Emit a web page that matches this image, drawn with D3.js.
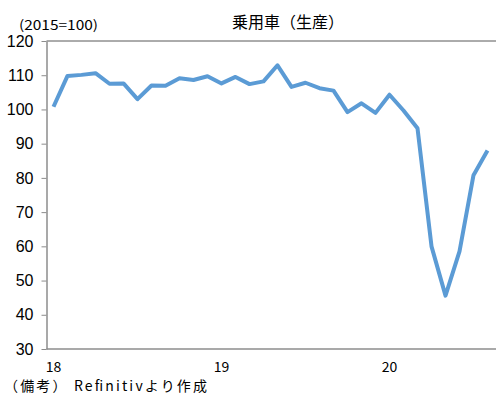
<!DOCTYPE html>
<html>
<head>
<meta charset="utf-8">
<script src="https://cdn.jsdelivr.net/npm/d3@7"></script>
<style>
  body { margin: 0; background: #fff; }
  svg { display: block; }
</style>
</head>
<body>
<div id="chart"></div>
<script>
// data: monthly index, Jan 2018 - Aug 2020
var months = [];
for (var yr = 2018; yr <= 2020; yr++) {
  for (var m = 1; m <= 12; m++) {
    if (yr === 2020 && m > 8) break;
    months.push(yr + "-" + m);
  }
}
var values = [100.8, 109.8, 110.1, 110.6, 107.5, 107.6, 103.0, 107.0, 106.9, 109.1, 108.6, 109.7,
              107.6, 109.5, 107.4, 108.2, 112.9, 106.6, 107.8, 106.2, 105.5, 99.2, 101.8, 99.0,
              104.3, 99.7, 94.5, 60.0, 45.6, 58.5, 80.8, 88.0];
var yTicks = [30, 40, 50, 60, 70, 80, 90, 100, 110, 120];
var xLabels = {"2018-1": "18", "2019-1": "19", "2020-1": "20"};

var W = 496, H = 394;
var plotLeft = 46.5, plotTop = 41, plotBottom = 349;

var svg = d3.select("#chart").append("svg")
    .attr("width", W)
    .attr("height", H);

var x = d3.scaleBand()
    .domain(months)
    .range([plotLeft, plotLeft + months.length * 14]);

var yScale = d3.scaleLinear()
    .domain([30, 120])
    .range([plotBottom, plotTop]);

// top border
svg.append("line")
  .attr("x1", plotLeft).attr("x2", W)
  .attr("y1", plotTop).attr("y2", plotTop)
  .style("stroke", "#595959").style("stroke-width", 1);

// y axis
var yAxis = svg.append("g")
  .attr("transform", "translate(" + plotLeft + ",0)")
  .call(d3.axisLeft(yScale).tickValues(yTicks).tickSize(5).tickPadding(8).tickSizeOuter(0));
yAxis.select(".domain").style("stroke", "#8c8c8c").style("stroke-width", 1.5);
yAxis.selectAll(".tick line").style("stroke", "#8c8c8c");
yAxis.selectAll("text")
  .style("font-family", "'Liberation Sans', Arial, sans-serif")
  .style("font-size", "16px")
  .style("fill", "#000");

// x axis line
svg.append("line")
  .attr("x1", plotLeft).attr("x2", W)
  .attr("y1", plotBottom).attr("y2", plotBottom)
  .style("stroke", "#8c8c8c").style("stroke-width", 1.5);

// x labels
svg.append("g")
  .selectAll("text")
  .data(months.filter(function(d) { return xLabels[d]; }))
  .enter().append("text")
    .attr("x", function(d) { return x(d) + x.bandwidth() / 2; })
    .attr("y", 367)
    .attr("dy", "0.35em")
    .attr("text-anchor", "middle")
    .style("font-family", "'Noto Sans CJK JP', sans-serif")
    .style("font-size", "14px")
    .text(function(d) { return xLabels[d]; });

// the line
var line = d3.line()
  .x(function(d, i) { return x(months[i]) + x.bandwidth() / 2; })
  .y(function(d) { return yScale(d); });

svg.append("path")
  .datum(values)
  .attr("d", line)
  .style("fill", "none")
  .style("stroke", "#5b9bd5")
  .style("stroke-width", 4)
  .style("stroke-linejoin", "round");

// titles
svg.append("text")
  .attr("x", 232).attr("y", 22)
  .attr("dy", "0.35em")
  .style("font-family", "'Noto Sans CJK JP', sans-serif")
  .style("font-size", "16px")
  .text("乗用車（生産）");

svg.append("text")
  .attr("x", 19).attr("y", 25)
  .attr("dy", "0.35em")
  .attr("textLength", 79)
  .attr("lengthAdjust", "spacingAndGlyphs")
  .style("font-family", "'Noto Sans CJK JP', sans-serif")
  .style("font-size", "13px")
  .text("(2015=100)");

svg.append("text")
  .attr("x", 4).attr("y", 386)
  .attr("dy", "0.35em")
  .attr("textLength", 203)
  .attr("lengthAdjust", "spacing")
  .style("font-family", "'Noto Sans CJK JP', sans-serif")
  .style("font-size", "14px")
  .text("（備考） Refinitivより作成");
</script>
</body>
</html>
